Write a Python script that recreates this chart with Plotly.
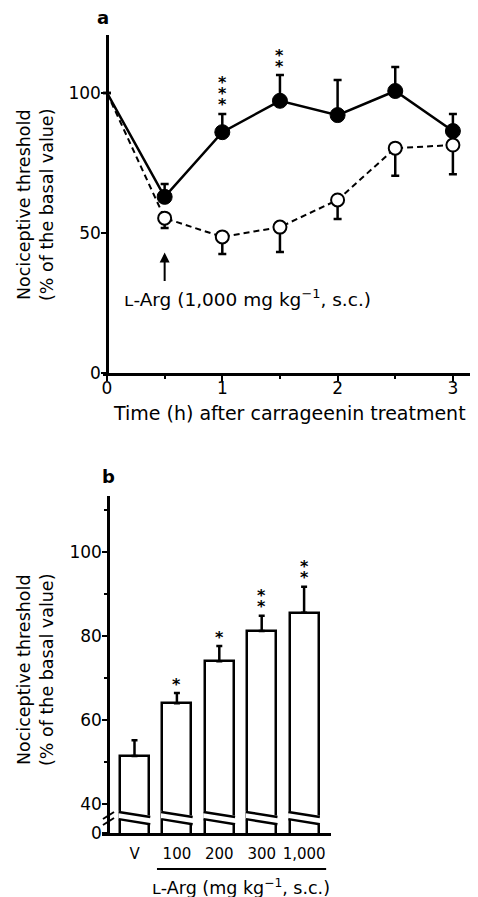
import plotly.graph_objects as go

# ---------------- data ----------------
# panel a: time course
times = [0, 0.5, 1, 1.5, 2, 2.5, 3]
larg_mean = [100, 62.9, 86.0, 97.2, 92.1, 100.7, 86.4]
larg_sem = [0, 4.6, 6.5, 9.2, 12.5, 8.6, 6.1]
ctrl_mean = [100, 55.3, 48.6, 52.1, 61.8, 80.3, 81.4]
ctrl_sem = [0, 3.5, 6.1, 8.9, 6.8, 9.9, 10.4]
larg_stars = [0, 0, 3, 2, 0, 0, 0]
a_xticks = [0, 1, 2, 3]
a_xminor = [0.5, 1.5, 2.5]
a_yticks = [0, 50, 100]

# panel b: dose response
dose_labels = ["V", "100", "200", "300", "1,000"]
dose_mean = [51.4, 64.0, 74.0, 81.2, 85.5]
dose_sem = [3.8, 2.4, 3.6, 3.6, 6.2]
dose_stars = [0, 1, 1, 2, 2]
b_yticks = [40, 60, 80, 100]
b_minor = [50, 70, 90, 110]

# ---------------- style ----------------
W, H = 478, 897          # target page size
OX, OY = 8, 8            # default body margin of the page
FW, FH = W - OX, H - OY  # figure size
FONT = "DejaVu Sans"
BLACK = "black"
BREAK_ZERO = 33.1          # axis position standing for 0 below the break
BRK_UP = (38.1, 36.9)      # upper break line (left, right) in axis units
BRK_LO = (36.4, 35.2)      # lower break line (left, right)
BAR_W = 0.684


def px(x):
    return (x - OX) / FW


def py(y):
    return 1 - (y - OY) / FH


def err_arrays(sem, up):
    """one-sided error bars; points without error get no bar at all"""
    plus = [(s if up else 0) if s > 0 else None for s in sem]
    minus = [(0 if up else s) if s > 0 else None for s in sem]
    return plus, minus


fig = go.Figure()

# control (open circles, dashed)
cp, cm = err_arrays(ctrl_sem, up=False)
fig.add_trace(go.Scatter(
    x=times, y=ctrl_mean, mode="lines+markers", xaxis="x", yaxis="y",
    line=dict(color=BLACK, width=2, dash="6px,4px"),
    marker=dict(symbol="circle", size=[0] + [13] * (len(times) - 1), opacity=1,
                color="white", line=dict(color=BLACK, width=2)),
    error_y=dict(type="data", symmetric=False, array=cp, arrayminus=cm,
                 color=BLACK, thickness=2.5, width=4),
    showlegend=False))

# L-Arg (filled circles, solid)
lp, lm = err_arrays(larg_sem, up=True)
fig.add_trace(go.Scatter(
    x=times, y=larg_mean, mode="lines+markers", xaxis="x", yaxis="y",
    line=dict(color=BLACK, width=2.5),
    marker=dict(symbol="circle", size=[0] + [15] * (len(times) - 1), opacity=1,
                color=BLACK, line=dict(color=BLACK, width=1)),
    error_y=dict(type="data", symmetric=False, array=lp, arrayminus=lm,
                 color=BLACK, thickness=2.5, width=4),
    showlegend=False))

# bars
xb = list(range(len(dose_labels)))
fig.add_trace(go.Bar(
    x=xb, y=dose_mean, xaxis="x2", yaxis="y2", width=BAR_W,
    marker=dict(color="white", line=dict(color=BLACK, width=2.5)),
    error_y=dict(type="data", symmetric=False, array=dose_sem,
                 arrayminus=[0] * len(xb), color=BLACK, thickness=2.5, width=3),
    showlegend=False))

shapes = []
# break marks on every bar
for i in xb:
    L, R = i - BAR_W / 2, i + BAR_W / 2
    e = 0.035
    shapes.append(dict(
        type="path", xref="x2", yref="y2", layer="above",
        path=f"M {L-e},{BRK_UP[0]+0.3} L {R+e},{BRK_UP[1]+0.3} L {R+e},{BRK_LO[1]-0.1} L {L-e},{BRK_LO[0]-0.1} Z",
        fillcolor="white", line=dict(width=0)))
    for (yl, yr) in (BRK_UP, BRK_LO):
        shapes.append(dict(type="line", xref="x2", yref="y2", layer="above",
                           x0=L - 0.03, x1=R + 0.03, y0=yl, y1=yr,
                           line=dict(color=BLACK, width=2.5)))

# break mark on y axis of panel b
for dy in (0, 6):
    shapes.append(dict(type="line", xref="paper", yref="paper",
                       x0=px(103), x1=px(114), y0=py(819 + dy), y1=py(812 + dy),
                       line=dict(color=BLACK, width=2)))

# underline under dose labels
shapes.append(dict(type="line", xref="x2", yref="paper",
                   x0=xb[1] - 0.47, x1=xb[-1] + 0.52, y0=py(869), y1=py(869),
                   line=dict(color=BLACK, width=2)))

annotations = []
# significance stars
for t, m, s, n in zip(times, larg_mean, larg_sem, larg_stars):
    for k in range(n):
        annotations.append(dict(x=t, y=m + s, xref="x", yref="y", text="<b>*</b>",
                                showarrow=False, xanchor="center", yanchor="middle",
                                yshift=9 + 11 * k,
                                font=dict(family=FONT, size=16, color=BLACK)))
for x, m, s, n in zip(xb, dose_mean, dose_sem, dose_stars):
    for k in range(n):
        annotations.append(dict(x=x, y=m + s, xref="x2", yref="y2", text="<b>*</b>",
                                showarrow=False, xanchor="center", yanchor="middle",
                                yshift=9 + 11 * k,
                                font=dict(family=FONT, size=16, color=BLACK)))

# arrow + injection label
annotations.append(dict(x=times[1], y=43, xref="x", yref="y", text="",
                        showarrow=True, ax=0, ay=30, arrowhead=2, arrowsize=1,
                        arrowwidth=2, arrowcolor=BLACK))
annotations.append(dict(x=0.13, y=26.8, xref="x", yref="y",
                        xanchor="left", yanchor="middle",
                        text="ʟ-Arg (1,000 mg kg<sup>−1</sup>, s.c.)",
                        showarrow=False,
                        font=dict(family=FONT, size=18.5, color=BLACK)))

# titles
ytitle = "Nociceptive threshold<br>(% of the basal value)"
for yc in (205, 670):
    annotations.append(dict(x=px(35), y=py(yc), xref="paper", yref="paper",
                            xanchor="center", yanchor="middle",
                            text=ytitle, textangle=-90, showarrow=False,
                            font=dict(family=FONT, size=17.5, color=BLACK)))
annotations.append(dict(x=px(289), y=py(413), xref="paper", yref="paper",
                        xanchor="center", yanchor="middle",
                        text="Time (h) after carrageenin treatment",
                        showarrow=False,
                        font=dict(family=FONT, size=19, color=BLACK)))
annotations.append(dict(x=2.5, y=py(887), xref="x2", yref="paper",
                        xanchor="center", yanchor="middle",
                        text="ʟ-Arg (mg kg<sup>−1</sup>, s.c.)",
                        showarrow=False,
                        font=dict(family=FONT, size=17.5, color=BLACK)))
# panel letters
for letter, xc, yc in (("a", 103, 18), ("b", 108, 477)):
    annotations.append(dict(x=px(xc), y=py(yc), xref="paper", yref="paper",
                            xanchor="center", yanchor="middle",
                            text=f"<b>{letter}</b>", showarrow=False,
                            font=dict(family=FONT, size=18, color=BLACK)))

axis_common = dict(showgrid=False, zeroline=False, showline=True,
                   linecolor=BLACK, linewidth=2.5, ticks="outside",
                   tickcolor=BLACK, tickwidth=2, ticklen=5,
                   tickfont=dict(family=FONT, size=17, color=BLACK))

# pixel scales of the two panels
A_X0, A_X1, A_XPX = 103, 476, 115.3   # axis line start/end, px per hour
A_YAX = 107                           # y axis position (x = 0)
B_X0, B_X1, B_XPX = 102, 331, 42.4    # axis line start/end, px per bar slot
B_YAX = 108
B_FIRST = 134.5                       # centre of first bar

fig.update_layout(
    width=FW, height=FH,
    margin=dict(l=0, r=0, t=0, b=0, autoexpand=False),
    paper_bgcolor="white", plot_bgcolor="white",
    font=dict(family=FONT, color=BLACK),
    showlegend=False,
    xaxis=dict(domain=[px(A_X0), px(A_X1)],
               range=[(A_X0 - A_YAX) / A_XPX, (A_X1 - A_YAX) / A_XPX], anchor="y",
               tickmode="array", tickvals=a_xticks, ticklabelstandoff=-7,
               minor=dict(tickmode="array", tickvals=a_xminor,
                          ticks="outside", ticklen=3, tickwidth=2, tickcolor=BLACK),
               **axis_common),
    yaxis=dict(domain=[py(373), py(35)], range=[0, 120.7],
               anchor="free", position=px(A_YAX),
               tickmode="array", tickvals=a_yticks, ticklabelstandoff=-3,
               **axis_common),
    xaxis2=dict(domain=[px(B_X0), px(B_X1)],
                range=[(B_X0 - B_FIRST) / B_XPX, (B_X1 - B_FIRST) / B_XPX], anchor="y2",
                tickmode="array", tickvals=xb, ticktext=dose_labels,
                showgrid=False, zeroline=False, showline=True,
                linecolor=BLACK, linewidth=2.5, ticks="",
                ticklabelstandoff=5,
                tickfont=dict(family=FONT, size=15, color=BLACK)),
    yaxis2=dict(domain=[py(833), py(496)], range=[BREAK_ZERO, 113.3],
                anchor="free", position=px(B_YAX),
                tickmode="array", tickvals=[BREAK_ZERO] + b_yticks,
                ticktext=["0"] + [str(v) for v in b_yticks], ticklabelstandoff=-3,
                minor=dict(tickmode="array", tickvals=b_minor,
                           ticks="outside", ticklen=3, tickwidth=2, tickcolor=BLACK),
                **axis_common),
    shapes=shapes,
    annotations=annotations,
    bargap=0,
)

fig.write_html("out.html")
